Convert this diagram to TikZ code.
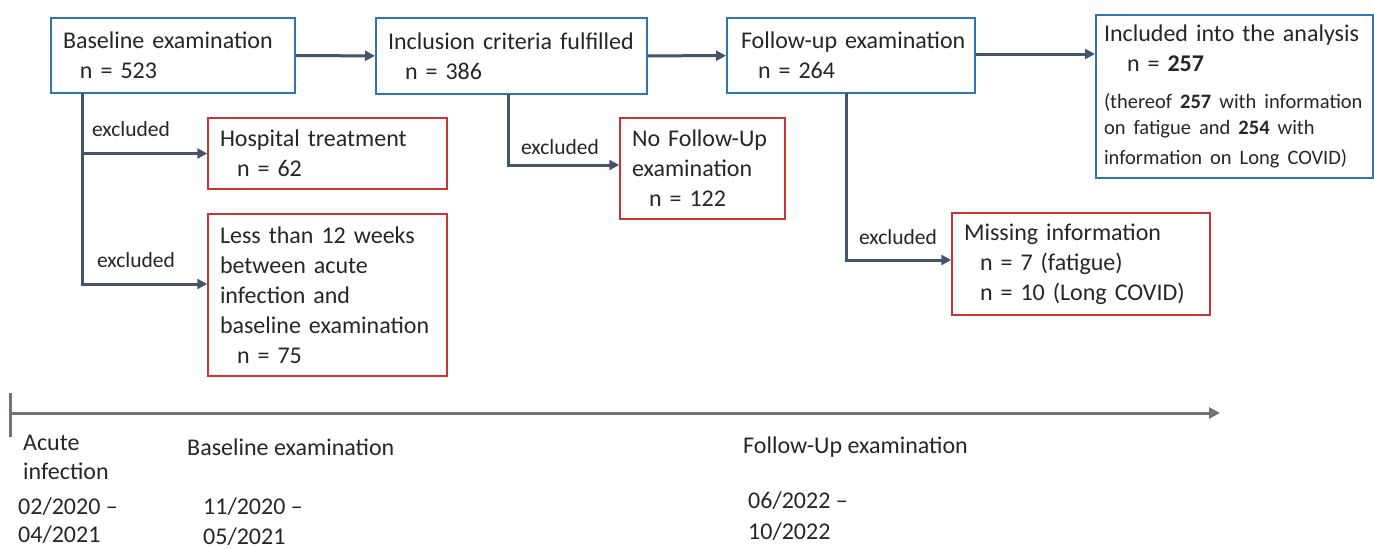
\documentclass[tikz,border=0pt]{standalone}
\usepackage{fontspec}
\setmainfont{Carlito}
\usepackage{tikz}
\usetikzlibrary{arrows.meta, shapes}
\hyphenpenalty=10000
\exhyphenpenalty=10000

\definecolor{boxblue}{RGB}{46,117,182}
\definecolor{boxred}{RGB}{204,51,51}
\definecolor{flow}{RGB}{68,84,106}
\definecolor{timegray}{RGB}{118,113,113}
\definecolor{txt}{RGB}{38,38,38}

\tikzset{
  box/.style={rectangle, draw, inner xsep=12pt, inner ysep=0pt, align=left, text=txt,
    font=\fontsize{24}{30}\selectfont},
  inbox/.style={box, draw=boxblue, line width=2pt},
  outbox/.style={box, draw=boxred, line width=1.5pt},
  flowarrow/.style={draw=flow, line width=3pt, -{Triangle[length=10pt,width=10pt]}},
  excl/.style={text=txt, font=\fontsize{21.5}{24}\selectfont, inner sep=0pt},
  timetext/.style={text=txt, font=\fontsize{24}{29}\selectfont, inner sep=0pt, align=left, anchor=west}
}

\begin{document}
\begin{tikzpicture}[x=1pt, y=-1pt]
\useasboundingbox (0,0) rectangle (1374,549);

% study flow
\node[inbox, text width=220pt, minimum height=75pt] (base) at (173,55.5)
  {Baseline examination\\\hspace*{17pt}n = 523};
\node[inbox, text width=247pt, minimum height=76pt] (incl) at (511.5,56)
  {Inclusion criteria fulfilled\\\hspace*{17pt}n = 386};
\node[inbox, inner xsep=9pt, text width=230pt, minimum height=75pt] (fu) at (851,55.5)
  {\hspace*{5pt}Follow-up examination\\\hspace*{22pt}n = 264};
\node[inbox, inner xsep=8pt, text width=261pt, minimum height=163pt] (anal) at (1234.5,96.5)
  {Included into the analysis\\\hspace*{23pt}n = \textbf{257}\par\vspace{10pt}
   \fontsize{20.5}{26.5}\selectfont (thereof \textbf{257} with information\\
   on fatigue and \textbf{254} with\\information on Long COVID)};

% exclusions
\node[outbox, text width=215pt, minimum height=71pt] (hosp) at (327.5,153.5)
  {Hospital treatment\\\hspace*{17pt}n = 62};
\node[outbox, text width=215pt, minimum height=162pt] (less) at (327.5,295)
  {Less than 12 weeks\\between acute\\infection and\\baseline examination\\\hspace*{17pt}n = 75};
\node[outbox, text width=141pt, minimum height=101pt] (nofu) at (702.5,168.5)
  {No Follow-Up\\examination\\\hspace*{17pt}n = 122};
\node[outbox, text width=234pt, minimum height=102pt] (miss) at (1081,264)
  {Missing information\\\hspace*{16pt}n = 7 (fatigue)\\\hspace*{16pt}n = 10 (Long COVID)};

\draw[flowarrow] (base) -- (incl);
\draw[flowarrow] (incl) -- (fu);
\draw[flowarrow] ([yshift=1.5pt]fu.east) -- ([yshift=1.5pt]fu.east -| anal.west);

\coordinate (bdown) at (82,93);
\coordinate (idown) at (508,94);
\coordinate (fdown) at (846,93);
\draw[flowarrow] (bdown) |- (hosp.west);
\draw[flowarrow] (bdown) |- ([yshift=11pt]less.west);
\draw[flowarrow] (idown) |- ([yshift=3.5pt]nofu.west);
\draw[flowarrow] (fdown) |- ([yshift=4pt]miss.west);

\node[excl] (ex1) at (131,129) {excluded};
\node[excl] (ex2) at (136,260) {excluded};
\node[excl] (ex3) at (560,147) {excluded};
\node[excl] (ex4) at (898,237) {excluded};

% timeline
\coordinate (t0) at (10,413);
\coordinate (t1) at (1220,413);
\draw[timegray, line width=3pt, -{Triangle[length=11pt,width=11pt]}] (t0) -- (t1);
\draw[timegray, line width=3pt] (10,393) -- (10,437);

\node[timetext] (acute) at (23,457.5) {Acute\\infection};
\node[timetext, font=\fontsize{24}{28}\selectfont] (acdate) at (18,521) {02/2020 --\\04/2021};
\node[timetext] (bltime) at (187,447) {Baseline examination};
\node[timetext, font=\fontsize{24}{30}\selectfont] (bldate) at (203,522) {11/2020 --\\05/2021};
\node[timetext] (futime) at (743,447) {Follow-Up examination};
\node[timetext, font=\fontsize{24}{31}\selectfont] (fudate) at (748,516.5) {06/2022 --\\10/2022};
\end{tikzpicture}
\end{document}
